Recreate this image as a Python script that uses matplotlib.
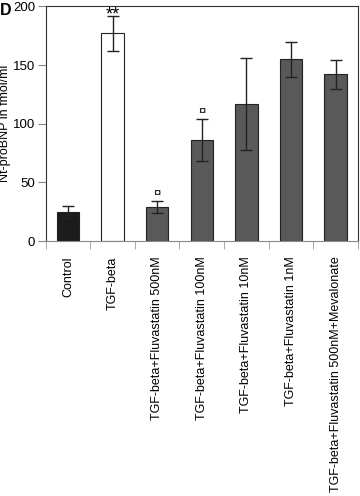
import numpy as np
import matplotlib.pyplot as plt

plt.rcParams['font.family'] = ['Liberation Sans', 'DejaVu Sans']

categories = ['Control', 'TGF-beta', 'TGF-beta+Fluvastatin 500nM',
              'TGF-beta+Fluvastatin 100nM', 'TGF-beta+Fluvastatin 10nM',
              'TGF-beta+Fluvastatin 1nM',
              'TGF-beta+Fluvastatin 500nM+Mevalonate']
values = [25, 177, 29, 86, 117, 155, 142]
errors = [5, 15, 5, 18, 39, 15, 12]
marks = ['', '**', '\u00a4', '\u00a4', '', '', '']
colors = ['#1c1c1c', 'white', '#595959', '#595959', '#595959', '#595959', '#595959']

fig = plt.figure(figsize=(3.6, 4.96), dpi=100)
ax = fig.add_axes([0.127, 0.514, 0.867, 0.473])

x = np.arange(len(categories))
ax.bar(x, values, width=0.5, color=colors, edgecolor='#222222', linewidth=0.8, zorder=2)
ax.errorbar(x, values, yerr=errors, fmt='none', ecolor='#222222',
            elinewidth=1, capsize=4, capthick=1, zorder=3)

for xi, v, e, m in zip(x, values, errors, marks):
    if m == '**':
        ax.text(xi, v + e - 3, m, ha='center', va='baseline', fontsize=13)
    elif m:
        ax.text(xi, v + e + 1, m, ha='center', va='bottom', fontsize=9.5)

ax.set_xlim(-0.5, len(categories) - 0.5)
ax.set_ylim(0, 200)
ax.set_yticks([0, 50, 100, 150, 200])
ax.tick_params(axis='y', labelsize=9.5, length=6, direction='out', color='#888888', pad=1.5)
ax.set_xticks(x)
ax.set_xticklabels(categories, rotation=90, fontsize=9, va='top')
ax.tick_params(axis='x', length=0, pad=11)
ax.set_xticks(np.arange(len(categories) + 1) - 0.5, minor=True)
ax.tick_params(axis='x', which='minor', length=6, color='#999999')
ax.set_ylabel('Nt-proBNP in fmol/ml', fontsize=9)
ax.yaxis.set_label_coords(-0.112, 0.5)

for s in ax.spines.values():
    s.set_color('#333333')
    s.set_linewidth(0.8)
ax.spines['bottom'].set_color('#888888')

fig.text(0.0, 0.993, 'D', fontsize=11.5, fontweight='bold', ha='left', va='top')

fig.savefig('out.png', dpi=100)
